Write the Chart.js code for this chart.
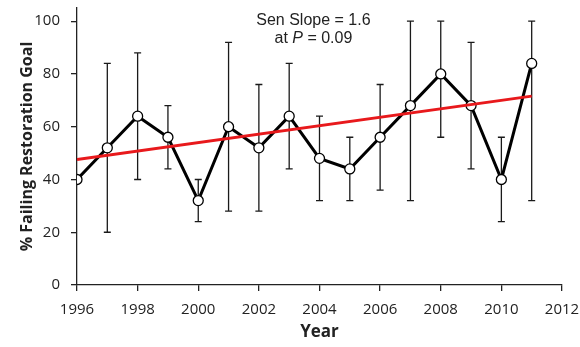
<!DOCTYPE html>
<html>
<head>
<meta charset="utf-8">
<script src="https://cdn.jsdelivr.net/npm/chart.js@4"></script>
<style>
  html, body { margin: 0; padding: 0; background: #fff; }
  #wrap { width: 580px; height: 347px; }
</style>
</head>
<body>
<div id="wrap"><canvas id="trendChart" width="580" height="347"></canvas></div>
<script>
// yearly % of sites failing the restoration goal, with error bar ranges
var years    = [1996, 1997, 1998, 1999, 2000, 2001, 2002, 2003, 2004, 2005, 2006, 2007, 2008, 2009, 2010, 2011];
var pctFail  = [40, 52, 64, 56, 32, 60, 52, 64, 48, 44, 56, 68, 80, 68, 40, 84];
var errHigh  = [40, 84, 88, 68, 40, 92, 76, 84, 64, 56, 76, 100, 100, 92, 56, 100];
var errLow   = [40, 20, 40, 44, 24, 28, 28, 44, 32, 32, 36, 32, 56, 44, 24, 32];

// Sen slope trend line
var senSlope = 1.6;
var senStart = 47.6;
var trendYears = [1996, 2011];

var xTicks = [1996, 1998, 2000, 2002, 2004, 2006, 2008, 2010, 2012];
var yTicks = [0, 20, 40, 60, 80, 100];

var tickFont = { family: 'Open Sans', size: 15 };
var textFont = '16px "Liberation Sans", Arial, sans-serif';
var textItalic = 'italic 16px "Liberation Sans", Arial, sans-serif';

var errorBars = {
    id: 'errorBars',
    beforeDatasetsDraw: function (chart) {
        var ctx = chart.ctx;
        var xs = chart.scales.x, ys = chart.scales.y;
        ctx.save();
        ctx.strokeStyle = '#1a1a1a';
        ctx.lineWidth = 1.3;
        for (var i = 0; i < years.length; i++) {
            if (errHigh[i] === errLow[i]) continue;
            var x = xs.getPixelForValue(years[i]);
            var top = ys.getPixelForValue(errHigh[i]);
            var bot = ys.getPixelForValue(errLow[i]);
            ctx.beginPath();
            ctx.moveTo(x, top); ctx.lineTo(x, bot);
            ctx.moveTo(x - 3.5, top); ctx.lineTo(x + 3.5, top);
            ctx.moveTo(x - 3.5, bot); ctx.lineTo(x + 3.5, bot);
            ctx.stroke();
        }
        ctx.restore();
    }
};

var senLabel = {
    id: 'senLabel',
    afterDraw: function (chart) {
        var ctx = chart.ctx;
        var cx = chart.scales.x.getPixelForValue(2003.8);
        ctx.save();
        ctx.fillStyle = '#222';
        ctx.font = textFont;
        ctx.textAlign = 'center';
        ctx.textBaseline = 'middle';
        ctx.fillText('Sen Slope = ' + senSlope, cx, 21);
        // second line with italic P
        var a = 'at ', p = 'P', b = ' = 0.09';
        var wa = ctx.measureText(a).width, wb = ctx.measureText(b).width;
        ctx.font = textItalic;
        var wp = ctx.measureText(p).width;
        var x0 = cx - (wa + wp + wb) / 2;
        ctx.textAlign = 'left';
        ctx.font = textFont;
        ctx.fillText(a, x0, 39);
        ctx.font = textItalic;
        ctx.fillText(p, x0 + wa, 39);
        ctx.font = textFont;
        ctx.fillText(b, x0 + wa + wp, 39);
        ctx.restore();
    }
};

var ctx = document.getElementById('trendChart').getContext('2d');
var chart = new Chart(ctx, {
    type: 'scatter',
    data: {
        datasets: [{
            label: '% Failing',
            data: years.map(function (y, i) { return { x: y, y: pctFail[i] }; }),
            showLine: true,
            borderColor: '#000',
            borderWidth: 3,
            pointRadius: 5,
            pointBackgroundColor: '#fff',
            pointBorderColor: '#000',
            pointBorderWidth: 1.3,
            order: 1
        }, {
            label: 'Sen slope',
            data: trendYears.map(function (y) { return { x: y, y: senStart + senSlope * (y - 1996) }; }),
            showLine: true,
            borderColor: '#e8191c',
            borderWidth: 3,
            pointRadius: 0,
            order: 0
        }]
    },
    options: {
        responsive: false,
        animation: false,
        layout: { padding: { left: 18, right: 18, top: 8, bottom: 5 } },
        plugins: {
            legend: { display: false },
            tooltip: { enabled: false }
        },
        scales: {
            x: {
                type: 'linear',
                min: 1996,
                max: 2012,
                afterBuildTicks: function (scale) {
                    scale.ticks = xTicks.map(function (v) { return { value: v }; });
                },
                afterFit: function (scale) {
                    scale.height = 57;
                    scale.paddingLeft = 0;
                    scale.paddingRight = 0;
                },
                ticks: { color: '#222', font: tickFont, maxRotation: 0, padding: 10,
                    callback: function (v) { return String(v); } },
                grid: { drawOnChartArea: false, drawTicks: true, tickLength: 6, color: '#222', lineWidth: 1.3 },
                border: { display: true, color: '#222', width: 1.3 },
                title: { display: true, text: 'Year', color: '#222', font: { family: 'Open Sans', size: 17, weight: 'bold' }, padding: 0 }
            },
            y: {
                min: 0,
                max: 105,
                afterBuildTicks: function (scale) {
                    scale.ticks = yTicks.map(function (v) { return { value: v }; });
                },
                afterFit: function (scale) {
                    scale.width = 59;
                    scale.paddingTop = 0;
                    scale.paddingBottom = 0;
                },
                ticks: { color: '#222', font: tickFont, padding: 11 },
                grid: { drawOnChartArea: false, drawTicks: true, tickLength: 6, color: '#222', lineWidth: 1.3 },
                border: { display: true, color: '#222', width: 1.3 },
                title: { display: true, text: '% Failing Restoration Goal', color: '#222', font: { family: 'Open Sans', size: 16, weight: 'bold' }, padding: 0 }
            }
        }
    },
    plugins: [errorBars, senLabel]
});
</script>
</body>
</html>
